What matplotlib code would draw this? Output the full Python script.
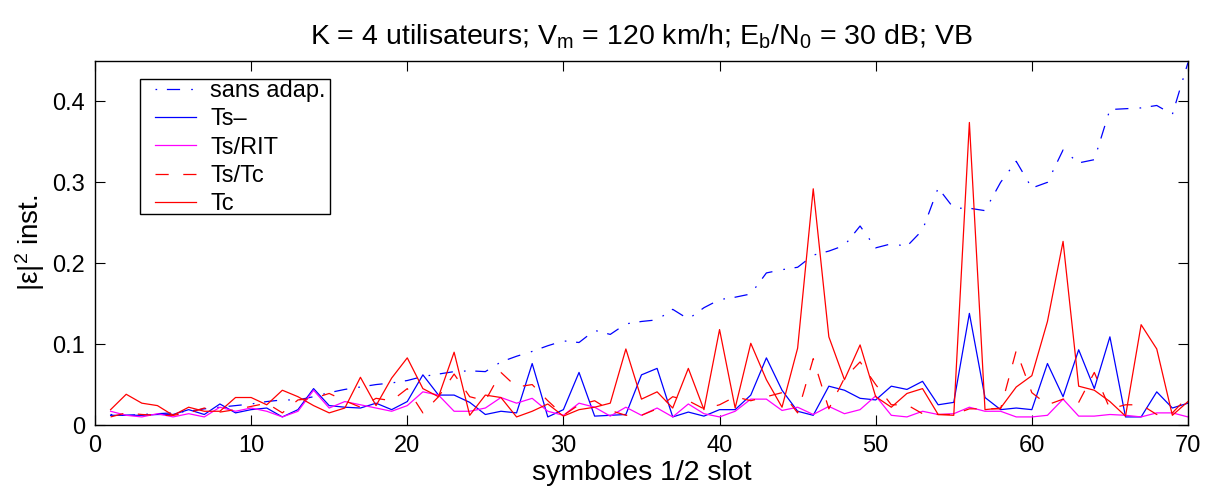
import matplotlib
matplotlib.use("Agg")
import matplotlib.pyplot as plt
from matplotlib.patches import Rectangle
import numpy as np

plt.rcParams['font.family'] = ['Liberation Sans', 'DejaVu Sans']
plt.rcParams['mathtext.fontset'] = 'custom'
plt.rcParams['mathtext.rm'] = 'Liberation Sans'
plt.rcParams['mathtext.it'] = 'Liberation Sans'
plt.rcParams['lines.scale_dashes'] = False

symboles = list(range(1, 71))

sans_adap = [0.013, 0.012, 0.013, 0.014, 0.015, 0.017, 0.020, 0.022, 0.024, 0.026,
             0.029, 0.031, 0.031, 0.035, 0.040, 0.044, 0.047, 0.050, 0.052, 0.055,
             0.060, 0.063, 0.066, 0.067, 0.066, 0.078, 0.085, 0.091, 0.098, 0.104,
             0.102, 0.117, 0.112, 0.125, 0.128, 0.130, 0.143, 0.131, 0.145, 0.155,
             0.158, 0.162, 0.188, 0.192, 0.195, 0.210, 0.215, 0.222, 0.246, 0.219,
             0.224, 0.221, 0.241, 0.293, 0.268, 0.268, 0.265, 0.300, 0.326, 0.293,
             0.300, 0.340, 0.324, 0.328, 0.390, 0.391, 0.392, 0.395, 0.384, 0.448]

ts_moins = [0.012, 0.012, 0.012, 0.013, 0.013, 0.019, 0.013, 0.026, 0.015, 0.019,
            0.021, 0.010, 0.019, 0.045, 0.024, 0.022, 0.021, 0.027, 0.019, 0.029,
            0.062, 0.037, 0.037, 0.028, 0.013, 0.017, 0.015, 0.076, 0.010, 0.019,
            0.065, 0.011, 0.012, 0.013, 0.062, 0.070, 0.010, 0.016, 0.011, 0.019,
            0.019, 0.037, 0.083, 0.043, 0.017, 0.012, 0.048, 0.043, 0.033, 0.031,
            0.048, 0.044, 0.054, 0.025, 0.028, 0.138, 0.034, 0.019, 0.021, 0.019,
            0.076, 0.035, 0.093, 0.045, 0.109, 0.010, 0.010, 0.041, 0.021, 0.027]

ts_rit = [0.017, 0.012, 0.010, 0.014, 0.010, 0.014, 0.010, 0.022, 0.017, 0.021,
          0.017, 0.010, 0.017, 0.043, 0.021, 0.029, 0.025, 0.021, 0.017, 0.024,
          0.041, 0.037, 0.017, 0.017, 0.021, 0.034, 0.027, 0.033, 0.017, 0.012,
          0.027, 0.022, 0.011, 0.022, 0.012, 0.021, 0.010, 0.026, 0.014, 0.010,
          0.017, 0.032, 0.032, 0.018, 0.022, 0.013, 0.023, 0.014, 0.019, 0.036,
          0.012, 0.010, 0.017, 0.013, 0.014, 0.022, 0.017, 0.017, 0.010, 0.010,
          0.012, 0.032, 0.011, 0.011, 0.013, 0.012, 0.010, 0.015, 0.015, 0.010]

ts_tc = [0.010, 0.015, 0.013, 0.012, 0.012, 0.015, 0.021, 0.016, 0.019, 0.023,
         0.027, 0.015, 0.031, 0.033, 0.039, 0.030, 0.022, 0.033, 0.030, 0.045,
         0.015, 0.035, 0.063, 0.035, 0.030, 0.065, 0.047, 0.050, 0.030, 0.012,
         0.025, 0.030, 0.018, 0.012, 0.012, 0.020, 0.035, 0.030, 0.020, 0.025,
         0.035, 0.030, 0.035, 0.040, 0.015, 0.082, 0.020, 0.058, 0.078, 0.050,
         0.025, 0.025, 0.014, 0.013, 0.013, 0.020, 0.020, 0.020, 0.092, 0.040,
         0.025, 0.032, 0.028, 0.065, 0.020, 0.025, 0.025, 0.013, 0.015, 0.035]

tc = [0.019, 0.038, 0.027, 0.024, 0.012, 0.022, 0.017, 0.017, 0.034, 0.034,
      0.025, 0.043, 0.035, 0.024, 0.015, 0.021, 0.059, 0.024, 0.058, 0.083,
      0.045, 0.035, 0.090, 0.012, 0.037, 0.034, 0.010, 0.017, 0.026, 0.011,
      0.019, 0.022, 0.027, 0.094, 0.032, 0.041, 0.021, 0.070, 0.019, 0.118,
      0.021, 0.101, 0.056, 0.022, 0.095, 0.292, 0.109, 0.056, 0.099, 0.035,
      0.022, 0.039, 0.045, 0.013, 0.012, 0.374, 0.019, 0.021, 0.047, 0.061,
      0.128, 0.227, 0.048, 0.043, 0.029, 0.011, 0.124, 0.094, 0.012, 0.029]

labels = ['sans adap.', 'Ts\u2013', 'Ts/RIT', 'Ts/Tc', 'Tc']
xticks = [0, 10, 20, 30, 40, 50, 60, 70]
yticks = [0, 0.1, 0.2, 0.3, 0.4]

fig = plt.figure(figsize=(12.1, 4.93), dpi=100)
ax = fig.add_axes([0.0785, 0.1379, 0.9033, 0.7384])

lw = 0.9
ax.plot(symboles, sans_adap, color='#0000ff', lw=lw, dashes=[1.2, 7.0, 9.5, 8.0], label=labels[0])
ax.plot(symboles, ts_moins, color='#0000ff', lw=lw, label=labels[1])
ax.plot(symboles, ts_rit, color='#ff00ff', lw=lw, label=labels[2])
ax.plot(symboles, ts_tc, color='#ff0000', lw=lw, dashes=[9.5, 10.5], label=labels[3])
ax.plot(symboles, tc, color='#ff0000', lw=lw, label=labels[4])

ax.set_xlim(0, 70)
ax.set_ylim(0, 0.45)
ax.set_xticks(xticks)
ax.set_yticks(yticks)
ax.set_xticklabels([str(v) for v in xticks])
ax.set_yticklabels(['0', '0.1', '0.2', '0.3', '0.4'])
ax.tick_params(direction='in', length=7, width=0.8, top=True, right=True,
               labelsize=17, pad=7, colors='black')
for s in ax.spines.values():
    s.set_linewidth(1.0)

ax.set_title(r'K = 4 utilisateurs; V$_{\rm m}$ = 120 km/h; E$_{\rm b}$/N$_{\rm 0}$ = 30 dB; VB',
             fontsize=20.5, pad=12)
ax.set_xlabel('symboles 1/2 slot', fontsize=20.5, labelpad=2)
ax.set_ylabel(r'|$\epsilon$|$^{2}$ inst.', fontsize=20, labelpad=4)

# legend frame (MATLAB-style box)
frame = Rectangle((0.0412, 0.5797), 0.1738, 0.3708, transform=ax.transAxes,
                  facecolor='white', edgecolor='black', linewidth=1.0, zorder=5)
ax.add_patch(frame)
leg = ax.legend(loc='upper left', bbox_to_anchor=(0.0549, 0.948), fontsize=17,
                frameon=False, handlelength=1.74, handletextpad=0.6,
                labelspacing=0.27, borderpad=0, borderaxespad=0)
leg.set_zorder(6)

fig.savefig('out.png', dpi=100)
